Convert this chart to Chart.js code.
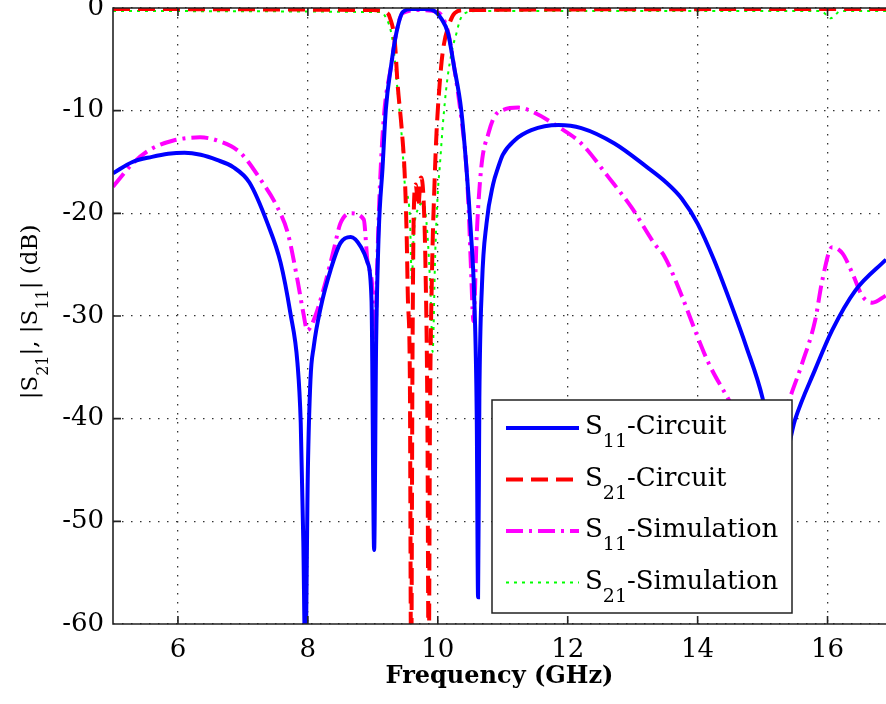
<!DOCTYPE html>
<html>
<head>
<meta charset="utf-8">
<script src="https://cdn.jsdelivr.net/npm/chart.js@4.4.0/dist/chart.umd.min.js"></script>
<style>
  html, body { margin: 0; padding: 0; background: #fff; }
</style>
</head>
<body>
<canvas id="sparams" width="886" height="704"></canvas>
<script>
// S11 circuit model
const s11CircuitFreq = [5.0, 5.3, 5.6, 5.85, 6.1, 6.35, 6.6, 6.85, 7.1, 7.38, 7.58, 7.73, 7.84, 7.89, 7.93, 7.96, 8.0, 8.04, 8.09, 8.2, 8.35, 8.5, 8.66, 8.82, 8.92, 8.98, 9.02, 9.05, 9.09, 9.15, 9.2, 9.28, 9.36, 9.46, 9.6, 9.8, 9.95, 10.05, 10.16, 10.25, 10.36, 10.44, 10.51, 10.56, 10.6, 10.62, 10.64, 10.68, 10.75, 10.85, 10.93, 11.0, 11.18, 11.44, 11.86, 12.21, 12.72, 13.22, 13.5, 13.76, 14.0, 14.25, 14.5, 14.75, 15.0, 15.25, 15.5, 15.81, 16.07, 16.43, 16.9];
const s11CircuitDb = [-16.1, -15.0, -14.5, -14.2, -14.1, -14.3, -14.8, -15.5, -17.0, -21.0, -24.8, -29.7, -34.6, -40.4, -52, -64, -45, -36.2, -33, -29.1, -25.5, -22.9, -22.3, -23.3, -24.8, -28.5, -52.8, -33, -22, -15.5, -9.9, -5.7, -2.5, -0.4, -0.1, -0.1, -0.3, -1.0, -2.5, -5.7, -9.9, -15.5, -21.9, -28, -40, -57.4, -38, -27, -21, -17.2, -15.5, -14.3, -12.9, -11.9, -11.4, -11.7, -13.2, -15.5, -16.9, -18.6, -21.0, -24.5, -28.6, -33, -38, -46, -40.1, -35.2, -31.4, -27.5, -24.5];

// S21 circuit model
const s21CircuitFreq = [5.0, 9.0, 9.2, 9.26, 9.34, 9.38, 9.45, 9.49, 9.52, 9.54, 9.57, 9.59, 9.61, 9.63, 9.66, 9.7, 9.74, 9.78, 9.81, 9.84, 9.86, 9.88, 9.91, 9.95, 9.98, 10.03, 10.08, 10.18, 10.26, 10.4, 16.9];
const s21CircuitDb = [-0.1, -0.2, -0.4, -0.9, -3.4, -7.3, -12.2, -16.1, -21.9, -28.4, -36, -66, -35, -20, -17.2, -19.3, -16.5, -18.5, -25, -40, -66, -40, -26, -17, -12.2, -7.3, -4.1, -1.5, -0.5, -0.2, -0.1];

// S11 full-wave simulation
const s11SimFreq = [5.0, 5.31, 5.57, 5.93, 6.34, 6.6, 6.96, 7.27, 7.53, 7.69, 7.84, 7.93, 7.99, 8.09, 8.25, 8.4, 8.5, 8.66, 8.86, 8.92, 9.0, 9.03, 9.06, 9.1, 9.17, 9.28, 9.36, 9.46, 9.7, 10.0, 10.16, 10.25, 10.36, 10.44, 10.48, 10.51, 10.55, 10.6, 10.67, 10.78, 10.87, 11.02, 11.24, 11.49, 11.86, 12.21, 12.63, 12.98, 13.34, 13.49, 13.76, 13.96, 14.17, 14.42, 14.75, 15.05, 15.25, 15.41, 15.61, 15.81, 15.92, 16.07, 16.23, 16.38, 16.54, 16.69, 16.9];
const s11SimDb = [-17.4, -15.1, -13.8, -12.9, -12.6, -12.9, -14.1, -16.7, -19.4, -21.9, -26.5, -29.7, -31.4, -30.4, -27.2, -23.5, -21.0, -20.0, -20.6, -24.8, -28, -35.5, -27, -18.7, -10.6, -5.7, -2.4, -0.5, -0.2, -0.4, -2.4, -5.7, -10.6, -15.5, -20.3, -25.2, -30.5, -22, -15.5, -12.2, -10.6, -9.9, -9.7, -10.2, -11.6, -13.2, -16.5, -19.4, -23.0, -24.2, -28.1, -31.4, -34.6, -37.5, -41, -43, -41.5, -38.2, -34.6, -30.4, -26.5, -23.3, -23.9, -25.8, -28.1, -28.7, -28.0];

// S21 full-wave simulation
const s21SimFreq = [5.0, 9.1, 9.18, 9.31, 9.38, 9.45, 9.49, 9.57, 9.6, 9.63, 9.7, 9.78, 9.84, 9.89, 9.92, 9.96, 10.0, 10.03, 10.08, 10.14, 10.22, 10.29, 10.34, 10.42, 10.6, 15.9, 16.05, 16.2, 16.9];
const s21SimDb = [-0.3, -0.4, -0.7, -3.4, -8, -12.9, -17, -20.3, -26.5, -22, -19.5, -19, -22, -28, -33.5, -24, -18, -15.5, -11.2, -7.3, -4.1, -2.4, -1.2, -0.5, -0.3, -0.3, -1.0, -0.3, -0.3];

const xTicks = [6, 8, 10, 12, 14, 16];
const yTicks = [0, -10, -20, -30, -40, -50, -60];

const legendNames = [
  ['S', '11', '-Circuit'],
  ['S', '21', '-Circuit'],
  ['S', '11', '-Simulation'],
  ['S', '21', '-Simulation'],
];
const yTitleParts = [['|S', false], ['21', true], ['|, |S', false], ['11', true], ['| (dB)', false]];
const xTitle = 'Frequency (GHz)';

const serif = "'DejaVu Serif', 'Liberation Serif', serif";

const toPoints = (xs, ys) => xs.map((f, i) => ({ x: f, y: ys[i] }));

// frame with inward ticks, matlab style
const axesFrame = {
  id: 'axesFrame',
  afterDatasetsDraw(chart) {
    const { ctx, chartArea: { left, top, right, bottom }, scales: { x, y } } = chart;
    ctx.save();
    ctx.strokeStyle = '#222';
    ctx.lineWidth = 1.6;
    ctx.beginPath();
    ctx.moveTo(right + 2, top);
    ctx.lineTo(left, top);
    ctx.lineTo(left, bottom);
    ctx.lineTo(right + 2, bottom);
    x.ticks.forEach((t) => {
      const px = x.getPixelForValue(t.value);
      ctx.moveTo(px, bottom);
      ctx.lineTo(px, bottom - 8);
      ctx.moveTo(px, top);
      ctx.lineTo(px, top + 8);
    });
    y.ticks.forEach((t) => {
      const py = y.getPixelForValue(t.value);
      ctx.moveTo(left, py);
      ctx.lineTo(left + 8, py);
    });
    ctx.stroke();
    ctx.restore();
  },
};

// y title and legend both need subscripts, so they are drawn by hand
const subscriptText = {
  id: 'subscriptText',
  afterDraw(chart, args, opts) {
    const { ctx } = chart;
    ctx.save();
    ctx.fillStyle = '#000';
    ctx.textBaseline = 'alphabetic';

    // rotated y title
    const mainFont = `23px ${serif}`;
    const subFont = `16px ${serif}`;
    let total = 0;
    yTitleParts.forEach(([txt, sub]) => {
      ctx.font = sub ? subFont : mainFont;
      total += ctx.measureText(txt).width;
    });
    ctx.translate(opts.yTitleX, opts.yTitleY);
    ctx.rotate(-Math.PI / 2);
    let cx = -total / 2;
    yTitleParts.forEach(([txt, sub]) => {
      ctx.font = sub ? subFont : mainFont;
      ctx.fillText(txt, cx, sub ? 11 : 0);
      cx += ctx.measureText(txt).width;
    });
    ctx.setTransform(1, 0, 0, 1, 0, 0);

    // legend box
    const box = opts.legendBox;
    ctx.fillStyle = '#fff';
    ctx.fillRect(box.left, box.top, box.right - box.left, box.bottom - box.top);
    ctx.strokeStyle = '#222';
    ctx.lineWidth = 1.5;
    ctx.strokeRect(box.left, box.top, box.right - box.left, box.bottom - box.top);

    chart.data.datasets.forEach((ds, i) => {
      const rowY = box.rowTop + i * box.rowGap;
      ctx.save();
      ctx.strokeStyle = ds.borderColor;
      ctx.lineWidth = ds.borderWidth;
      ctx.setLineDash(ds.borderDash || []);
      ctx.beginPath();
      ctx.moveTo(box.left + 14, rowY);
      ctx.lineTo(box.left + 87, rowY);
      ctx.stroke();
      ctx.restore();

      const [base, sub, rest] = legendNames[i];
      let tx = box.left + 93;
      const baseY = rowY + 6;
      ctx.fillStyle = '#000';
      ctx.font = `26px ${serif}`;
      ctx.fillText(base, tx, baseY);
      tx += ctx.measureText(base).width;
      ctx.font = `19px ${serif}`;
      ctx.fillText(sub, tx, baseY + 13);
      tx += ctx.measureText(sub).width;
      ctx.font = `26px ${serif}`;
      ctx.fillText(rest, tx, baseY);
    });
    ctx.restore();
  },
};

const sparamsChart = new Chart(document.getElementById('sparams').getContext('2d'), {
  type: 'line',
  data: {
    datasets: [
      {
        data: toPoints(s11CircuitFreq, s11CircuitDb),
        borderColor: '#0000ff',
        borderWidth: 4,
      },
      {
        data: toPoints(s21CircuitFreq, s21CircuitDb),
        borderColor: '#ff0000',
        borderWidth: 4,
        borderDash: [17, 8],
      },
      {
        data: toPoints(s11SimFreq, s11SimDb),
        borderColor: '#ff00ff',
        borderWidth: 4,
        borderDash: [17, 6, 3, 6],
      },
      {
        data: toPoints(s21SimFreq, s21SimDb),
        borderColor: '#00ff00',
        borderWidth: 2,
        borderDash: [3, 5],
      },
    ],
  },
  options: {
    responsive: false,
    animation: false,
    clip: 0,
    layout: { padding: { top: 8, right: 0, left: 0, bottom: 0 } },
    elements: {
      point: { radius: 0 },
      line: { cubicInterpolationMode: 'monotone', fill: false },
    },
    scales: {
      x: {
        type: 'linear',
        min: 5,
        max: 16.9,
        afterBuildTicks: (scale) => { scale.ticks = xTicks.map((v) => ({ value: v })); },
        afterFit: (scale) => {
          scale.height = 80;
          scale.paddingLeft = 0;
          scale.paddingRight = 0;
        },
        grid: { color: '#333', lineWidth: 1.3, drawTicks: false },
        border: { display: false, dash: [1.5, 7.5] },
        ticks: {
          color: '#000',
          padding: 11,
          maxRotation: 0,
          font: { family: serif, size: 26 },
          callback: (v) => String(v),
        },
        title: {
          display: true,
          text: xTitle,
          color: '#000',
          font: { family: serif, size: 24, weight: 'bold' },
          padding: { top: 0, bottom: 13 },
        },
      },
      y: {
        min: -60,
        max: 0,
        afterBuildTicks: (scale) => { scale.ticks = yTicks.map((v) => ({ value: v })); },
        afterFit: (scale) => {
          scale.width = 113;
          scale.paddingTop = 0;
          scale.paddingBottom = 0;
        },
        grid: { color: '#333', lineWidth: 1.3, drawTicks: false },
        border: { display: false, dash: [1.5, 7.5] },
        ticks: {
          color: '#000',
          padding: 9,
          font: { family: serif, size: 26 },
          callback: (v) => String(v),
        },
      },
    },
    plugins: {
      legend: { display: false },
      tooltip: { enabled: false },
      subscriptText: {
        yTitleX: 37,
        yTitleY: 312,
        legendBox: { left: 492, top: 400, right: 792, bottom: 613, rowTop: 428, rowGap: 51.5 },
      },
    },
  },
  plugins: [axesFrame, subscriptText],
});
</script>
</body>
</html>
